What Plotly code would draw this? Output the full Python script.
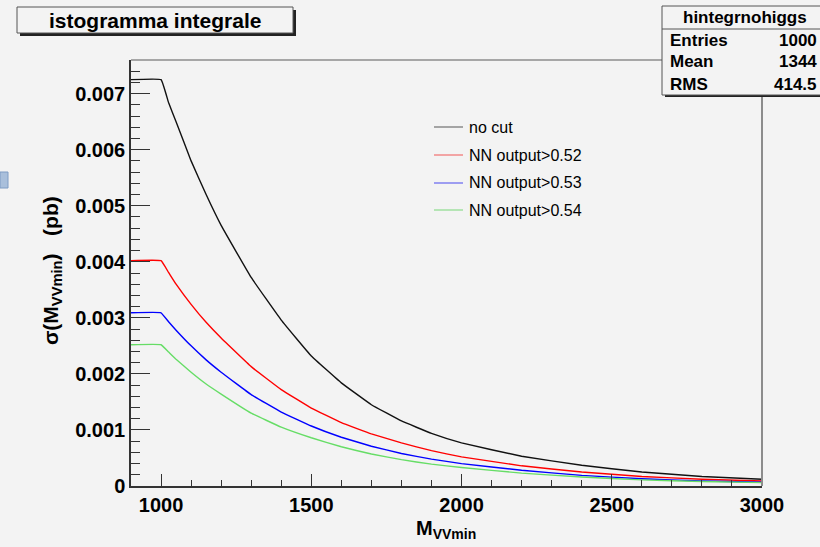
import plotly.graph_objects as go

# ---- data ----
m_vv_min = [900, 1000, 1025, 1050, 1100, 1150, 1200, 1300, 1400, 1500, 1600, 1700,
            1800, 1900, 2000, 2200, 2400, 2600, 2800, 3000]
sigma_no_cut = [0.00725, 0.00725, 0.00684, 0.0065, 0.0058, 0.0052, 0.00465, 0.00372,
                0.00296, 0.00232, 0.00184, 0.00145, 0.00116, 0.00094, 0.00077,
                0.00053, 0.00037, 0.00025, 0.00017, 0.00012]
sigma_nn052 = [0.00402, 0.00402, 0.00381, 0.0036, 0.00324, 0.00292, 0.00264, 0.00213,
               0.00172, 0.00139, 0.00113, 0.00093, 0.00077, 0.00063, 0.00052,
               0.00036, 0.00025, 0.00017, 0.00012, 0.00009]
sigma_nn053 = [0.00309, 0.00309, 0.00293, 0.00278, 0.0025, 0.00225, 0.00203, 0.00163,
               0.00132, 0.00107, 0.00087, 0.00071, 0.00058, 0.00048, 0.0004,
               0.00028, 0.00019, 0.00013, 0.00009, 0.00007]
sigma_nn054 = [0.00252, 0.00252, 0.00239, 0.00226, 0.00203, 0.00182, 0.00164, 0.0013,
               0.00105, 0.00086, 0.0007, 0.00057, 0.00047, 0.00039, 0.00033,
               0.00023, 0.00016, 0.00011, 0.00008, 0.00006]
series_names = ["no cut", "NN output>0.52", "NN output>0.53", "NN output>0.54"]
x_tickvals = [1000, 1500, 2000, 2500, 3000]
y_tickvals = [0, 0.001, 0.002, 0.003, 0.004, 0.005, 0.006, 0.007]
y_ticktext = ["0", "0.001", "0.002", "0.003", "0.004", "0.005", "0.006", "0.007"]
stats_labels = ["Entries", "Mean", "RMS"]
stats_values = ["1000", "1344", "414.5"]

# ---- layout geometry ----
W, H = 820, 547
L, R, T, B = 131, 58, 60, 61
PW, PH = W - L - R, H - T - B


def px(x):
    return (x - L) / PW


def py(y):
    return (H - B - y) / PH


FONT = "Liberation Sans, Arial, Helvetica, sans-serif"
BG = "#f3f3f3"

line_colors = ["#111111", "#ff0000", "#0000ff", "#66dd66"]
legend_colors = ["#8a8a8a", "#f28a8a", "#8080f0", "#a0e0a0"]
series = [sigma_no_cut, sigma_nn052, sigma_nn053, sigma_nn054]

fig = go.Figure()
for name, ys, col in zip(series_names, series, line_colors):
    fig.add_trace(go.Scatter(x=m_vv_min, y=ys, mode="lines", name=name,
                             line=dict(color=col, width=1.4, shape="spline", smoothing=0.25),
                             showlegend=False, hoverinfo="x+y"))

shapes = []
annotations = []

# frame top / right (gray)
shapes.append(dict(type="line", xref="paper", yref="paper", x0=0, x1=1, y0=1, y1=1,
                   line=dict(color="#8c8c8c", width=1.5)))
shapes.append(dict(type="line", xref="paper", yref="paper", x0=1, x1=1, y0=0, y1=1,
                   line=dict(color="#8c8c8c", width=2)))

# legend (manual, no border)
leg_rows = [127, 155, 183, 210]
for name, col, yy in zip(series_names, legend_colors, leg_rows):
    shapes.append(dict(type="line", xref="paper", yref="paper",
                       x0=px(434), x1=px(463), y0=py(yy), y1=py(yy),
                       line=dict(color=col, width=1.5)))
    annotations.append(dict(text=name, xref="paper", yref="paper", x=px(467), y=py(yy),
                            xanchor="left", yanchor="middle", showarrow=False,
                            font=dict(family=FONT, size=16, color="#000")))

# title box with shadow
shapes.append(dict(type="rect", xref="paper", yref="paper",
                   x0=px(20), x1=px(296), y0=py(36), y1=py(10),
                   fillcolor="#222", line=dict(width=0), layer="above"))
shapes.append(dict(type="rect", xref="paper", yref="paper",
                   x0=px(17), x1=px(293), y0=py(33), y1=py(7),
                   fillcolor=BG, line=dict(color="#555", width=1), layer="above"))
annotations.append(dict(text="<b>istogramma integrale</b>", xref="paper", yref="paper",
                        x=px(155), y=py(21), xanchor="center", yanchor="middle",
                        showarrow=False, font=dict(family=FONT, size=21, color="#000")))

# stats box with shadow
shapes.append(dict(type="rect", xref="paper", yref="paper",
                   x0=px(665), x1=px(840), y0=py(97), y1=py(9),
                   fillcolor="#222", line=dict(width=0), layer="above"))
shapes.append(dict(type="rect", xref="paper", yref="paper",
                   x0=px(662), x1=px(840), y0=py(95), y1=py(6),
                   fillcolor=BG, line=dict(color="#555", width=1), layer="above"))
shapes.append(dict(type="line", xref="paper", yref="paper",
                   x0=px(662), x1=px(840), y0=py(29), y1=py(29),
                   line=dict(color="#555", width=1), layer="above"))
annotations.append(dict(text="<b>hintegrnohiggs</b>", xref="paper", yref="paper",
                        x=px(745), y=py(18), xanchor="center", yanchor="middle",
                        showarrow=False, font=dict(family=FONT, size=17, color="#000")))
for lab, val, yy in zip(stats_labels, stats_values, [40, 62, 84]):
    annotations.append(dict(text="<b>%s</b>" % lab, xref="paper", yref="paper",
                            x=px(668), y=py(yy), xanchor="left", yanchor="middle",
                            showarrow=False, font=dict(family=FONT, size=17, color="#000")))
    annotations.append(dict(text="<b>%s</b>" % val, xref="paper", yref="paper",
                            x=px(819), y=py(yy), xanchor="right", yanchor="middle",
                            showarrow=False, font=dict(family=FONT, size=17, color="#000")))

# axis titles
annotations.append(dict(text="<b>σ(M<sub>VVmin</sub>)   (pb)</b>", xref="paper", yref="paper",
                        x=px(52), y=py(271), xanchor="center", yanchor="middle",
                        textangle=-90, showarrow=False,
                        font=dict(family=FONT, size=21, color="#000")))
annotations.append(dict(text="<b>M<sub>VVmin</sub></b>", xref="paper", yref="paper",
                        x=px(446), y=py(529), xanchor="center", yanchor="middle",
                        showarrow=False, font=dict(family=FONT, size=20, color="#000")))

# small desktop artifact at left edge
shapes.append(dict(type="rect", xref="paper", yref="paper",
                   x0=px(0), x1=px(8), y0=py(188), y1=py(172),
                   fillcolor="#a9bfdb", line=dict(color="#7f9cc4", width=1)))

fig.update_layout(
    width=W, height=H,
    margin=dict(l=L, r=R, t=T, b=B, pad=0),
    paper_bgcolor=BG, plot_bgcolor=BG,
    shapes=shapes, annotations=annotations,
    showlegend=False,
    xaxis=dict(range=[900, 3000], tickvals=x_tickvals, ticks="inside", ticklen=12,
               tickwidth=1, tickcolor="#333", showgrid=False, zeroline=False,
               showline=True, linecolor="#333", linewidth=1.5,
               tickfont=dict(family=FONT, size=20, color="#000", weight="bold"),
               minor=dict(tick0=1000, dtick=100, ticks="inside", ticklen=6,
                          tickcolor="#333", showgrid=False)),
    yaxis=dict(range=[0, 0.0076], tickvals=y_tickvals, ticktext=y_ticktext,
               ticks="inside", ticklen=19, tickwidth=1, tickcolor="#333",
               showgrid=False, zeroline=False, showline=True, linecolor="#333",
               linewidth=1.5,
               tickfont=dict(family=FONT, size=20, color="#000", weight="bold"),
               minor=dict(tick0=0, dtick=0.0002, ticks="inside", ticklen=9,
                          tickcolor="#333", showgrid=False)),
)

fig.write_html(
    "out.html",
    config={"displayModeBar": False},
    post_script="document.body.style.margin='0';document.body.style.overflow='hidden';"
                "document.body.style.background='%s';" % BG,
)
